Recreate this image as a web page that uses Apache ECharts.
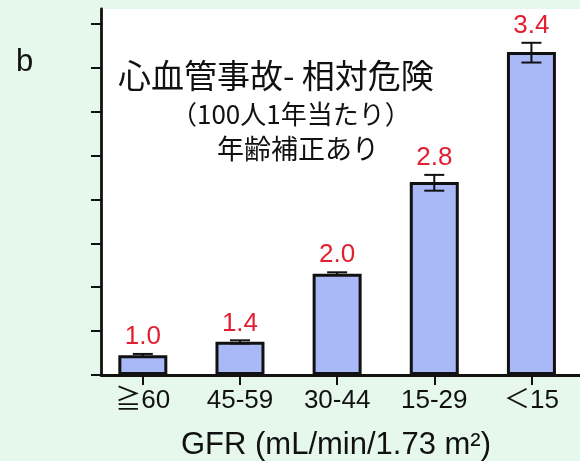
<!DOCTYPE html>
<html>
<head>
<meta charset="utf-8">
<script src="https://cdn.jsdelivr.net/npm/echarts@6/dist/echarts.min.js"></script>
<style>
html,body{margin:0;padding:0;background:#e6f8ec;}
#c{width:580px;height:461px;}
</style>
</head>
<body>
<div id="c"></div>
<script>
const categories = ['≧60', '45-59', '30-44', '15-29', '＜15'];
const eventRates = [2.25, 3.8, 11.55, 22.0, 36.8];
const ciLow = [2.05, 3.6, 11.4, 21.0, 35.6];
const ciHigh = [2.4, 3.95, 11.7, 22.8, 37.85];
const hazardRatios = ['1.0', '1.4', '2.0', '2.8', '3.4'];
const yTicks = [0, 5, 10, 15, 20, 25, 30, 35, 40];
const yMax = 41.7;

const latin = "'Liberation Sans', 'Noto Sans CJK JP', sans-serif";
const cjk = "'Noto Sans CJK JP', 'Liberation Sans', sans-serif";

const chart = echarts.init(document.getElementById('c'), null, {renderer: 'canvas'});

const errData = categories.map((c, i) => [i, ciLow[i], ciHigh[i], hazardRatios[i]]);

chart.setOption({
  backgroundColor: '#e6f8ec',
  animation: false,
  grid: [
    {left: 101, top: 9, right: 0, bottom: 86, show: true, backgroundColor: '#ffffff', borderWidth: 0},
    {left: 94.25, top: 9, width: 507.5, bottom: 86}
  ],
  xAxis: [
    {gridIndex: 0, type: 'value', min: 0, max: 1,
     axisLine: {show: true, lineStyle: {color: '#111', width: 2.8}},
     axisTick: {show: false}, axisLabel: {show: false}, splitLine: {show: false}},
    {gridIndex: 1, type: 'category', data: categories,
     axisLine: {show: false},
     axisTick: {show: true, alignWithLabel: true, length: 10, lineStyle: {color: '#111', width: 2}},
     axisLabel: {color: '#111', fontSize: 26, fontFamily: latin, margin: 13}}
  ],
  yAxis: [
    {gridIndex: 0, type: 'value', min: 0, max: yMax,
     axisLine: {show: true, lineStyle: {color: '#111', width: 2.8}},
     axisTick: {show: true, inside: false, length: 10, customValues: yTicks, lineStyle: {color: '#111', width: 2}},
     axisLabel: {show: false}, splitLine: {show: false}},
    {gridIndex: 1, type: 'value', min: 0, max: yMax,
     axisLine: {show: false}, axisTick: {show: false}, axisLabel: {show: false}, splitLine: {show: false}}
  ],
  series: [
    {type: 'bar', xAxisIndex: 1, yAxisIndex: 1, data: eventRates, barWidth: 49,
     itemStyle: {color: '#a9b9f7', borderColor: '#111', borderWidth: 3}},
    {type: 'custom', xAxisIndex: 1, yAxisIndex: 1, data: errData, z: 5,
     renderItem: function (params, api) {
       const lo = api.coord([api.value(0), api.value(1)]);
       const hi = api.coord([api.value(0), api.value(2)]);
       const x = lo[0];
       const hw = 10;
       const ls = {stroke: '#111', lineWidth: 2};
       return {
         type: 'group',
         children: [
           {type: 'line', shape: {x1: x, y1: lo[1], x2: x, y2: hi[1]}, style: ls},
           {type: 'line', shape: {x1: x - hw, y1: lo[1], x2: x + hw, y2: lo[1]}, style: ls},
           {type: 'line', shape: {x1: x - hw, y1: hi[1], x2: x + hw, y2: hi[1]}, style: ls},
           {type: 'text', x: x, y: hi[1] - 4,
            style: {text: hazardRatios[params.dataIndex], fill: '#e21f30',
                    font: '26px ' + latin, textAlign: 'center', textVerticalAlign: 'bottom'}}
         ]
       };
     }}
  ],
  graphic: [
    {type: 'text', x: 16, y: 62, z: 10,
     style: {text: 'b', fill: '#111', font: '31px ' + latin, textAlign: 'left', textVerticalAlign: 'middle'}},
    {type: 'text', x: 118, y: 75, z: 10,
     style: {text: '心血管事故- 相対危険', fill: '#111', font: '33px ' + cjk, textAlign: 'left', textVerticalAlign: 'middle'}},
    {type: 'text', x: 171, y: 114, z: 10,
     style: {text: '（100人1年当たり）', fill: '#111', font: '26px ' + cjk, textAlign: 'left', textVerticalAlign: 'middle'}},
    {type: 'text', x: 217, y: 149, z: 10,
     style: {text: '年齢補正あり', fill: '#111', font: '27px ' + cjk, textAlign: 'left', textVerticalAlign: 'middle'}},
    {type: 'text', x: 336, y: 445, z: 10,
     style: {text: 'GFR (mL/min/1.73 m²)', fill: '#111', font: '31px ' + latin, textAlign: 'center', textVerticalAlign: 'middle'}}
  ]
});
</script>
</body>
</html>
